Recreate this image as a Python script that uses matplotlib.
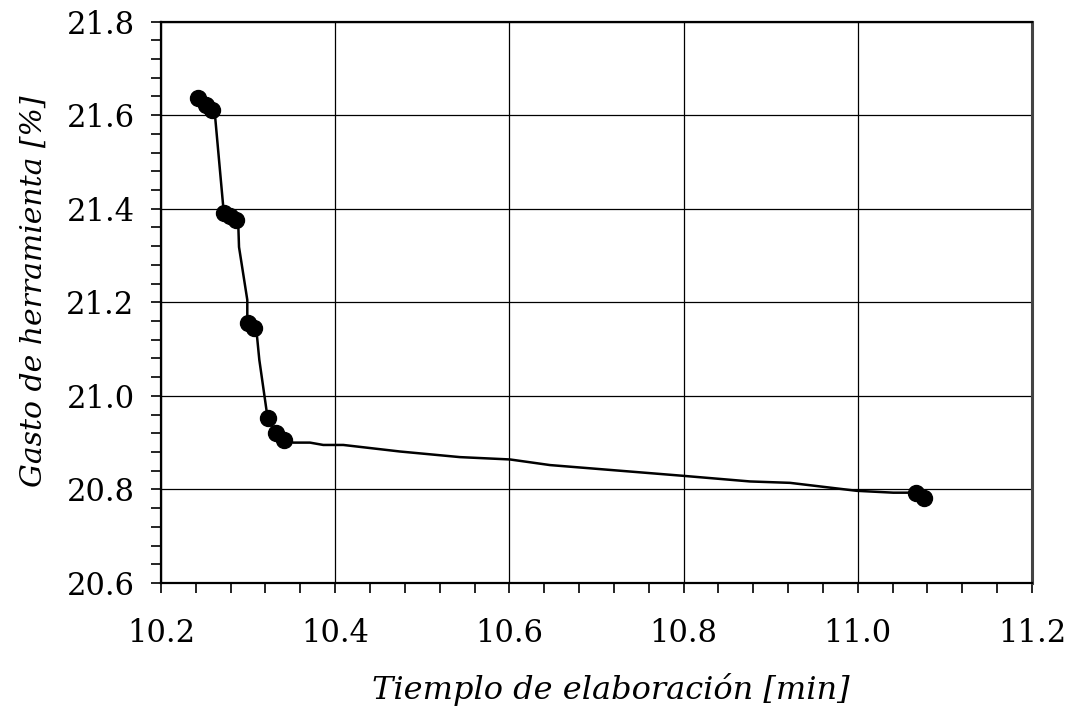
import numpy as np
import matplotlib
matplotlib.use("Agg")
import matplotlib.pyplot as plt
from matplotlib.ticker import MultipleLocator

# markers
tiempo = [10.2425, 10.2517, 10.2586, 10.2723, 10.2792, 10.2861, 10.3002,
          10.3071, 10.3232, 10.3320, 10.3412, 11.0668, 11.0763]
gasto = [21.637, 21.622, 21.611, 21.391, 21.384, 21.376, 21.156,
         21.144, 20.953, 20.920, 20.906, 20.792, 20.781]

# connecting curve
curva_x = [10.2586, 10.2620, 10.2715, 10.2723, 10.2861, 10.2887, 10.2896,
           10.2991, 10.2991, 10.3002, 10.3071, 10.3099, 10.3129, 10.3214,
           10.3232, 10.3320, 10.3412, 10.3519, 10.3711, 10.3863, 10.4093,
           10.4744, 10.5433, 10.6007, 10.6466, 10.7997, 10.8762, 10.9222,
           10.9987, 11.0408, 11.0619, 11.0668]
curva_y = [21.611, 21.600, 21.404, 21.391, 21.376, 21.369, 21.318,
           21.205, 21.173, 21.156, 21.144, 21.134, 21.077, 20.966,
           20.953, 20.920, 20.906, 20.900, 20.900, 20.895, 20.895,
           20.881, 20.869, 20.864, 20.852, 20.829, 20.817, 20.814,
           20.797, 20.793, 20.793, 20.792]

plt.rcParams["font.family"] = "DejaVu Serif"

fig = plt.figure(figsize=(10.71, 7.10), dpi=100)
ax = fig.add_axes([0.1503, 0.1789, 0.8133, 0.7908])

ax.plot(curva_x, curva_y, color="black", lw=1.8, zorder=3)
ax.plot(tiempo, gasto, "o", color="black", ms=11.5, zorder=4)

ax.set_xlim(10.2, 11.2)
ax.set_ylim(20.6, 21.8)
ax.xaxis.set_major_locator(MultipleLocator(0.2))
ax.xaxis.set_minor_locator(MultipleLocator(0.04))
ax.yaxis.set_major_locator(MultipleLocator(0.2))
ax.yaxis.set_minor_locator(MultipleLocator(0.04))
ax.xaxis.set_major_formatter(matplotlib.ticker.FormatStrFormatter("%.1f"))
ax.yaxis.set_major_formatter(matplotlib.ticker.FormatStrFormatter("%.1f"))

ax.grid(True, which="major", color="black", lw=0.9)
ax.tick_params(which="both", direction="out", length=7, width=1.2,
               top=False, right=False)
ax.tick_params(axis="x", which="major", labelsize=22, pad=18)
ax.tick_params(axis="y", which="major", labelsize=22, pad=12)

for s in ax.spines.values():
    s.set_linewidth(1.6)
    s.set_color("black")
ax.spines["right"].set_color("#444444")
ax.spines["right"].set_linewidth(2.2)

ax.set_xlabel("Tiemplo de elaboración [min]", fontsize=23, style="italic",
              labelpad=16)
ax.xaxis.set_label_coords(0.516, -0.16, transform=ax.transAxes)
ax.xaxis.label.set_va("top")
ax.set_ylabel("Gasto de herramienta [%]", fontsize=21.5, style="italic")
ax.yaxis.set_label_coords(-0.13, 0.52)

fig.savefig("out.png", dpi=100)
